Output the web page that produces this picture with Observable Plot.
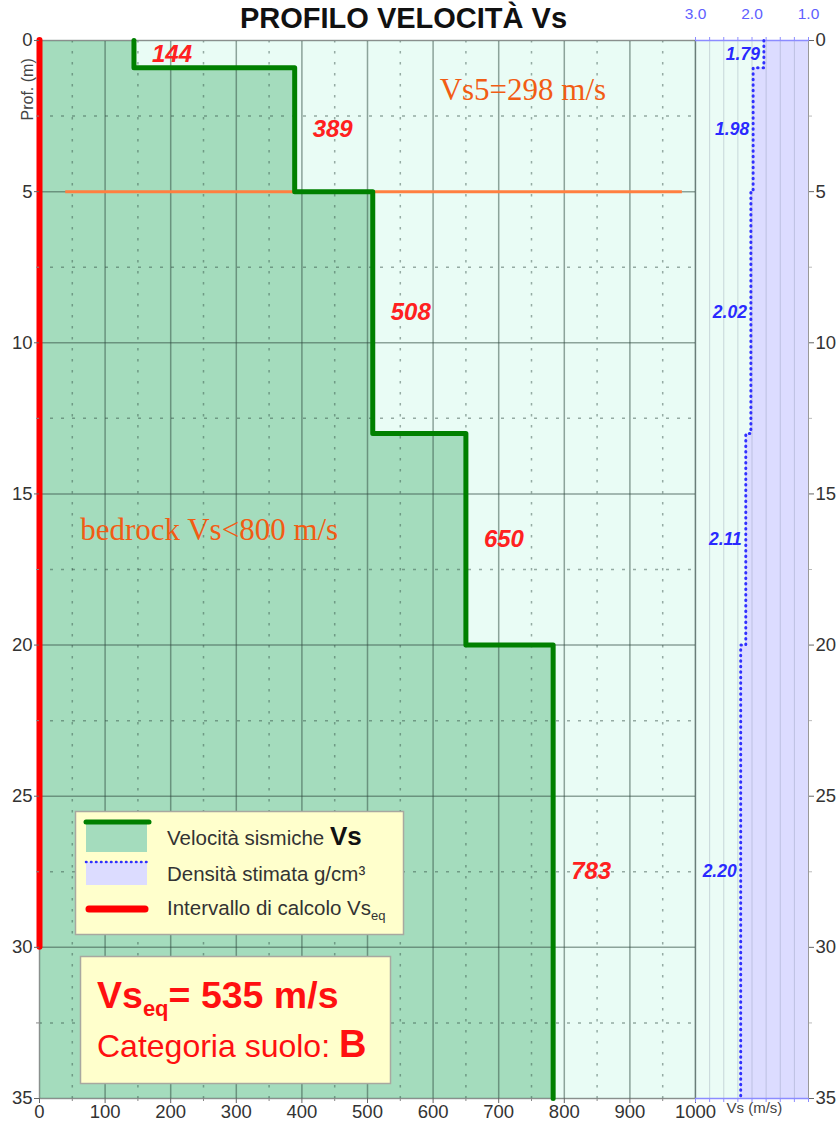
<!DOCTYPE html>
<html><head><meta charset="utf-8">
<script src="https://cdn.jsdelivr.net/npm/d3@7"></script>
<script src="https://cdn.jsdelivr.net/npm/@observablehq/plot@0.6"></script>
<style>
body{margin:0;background:#fff;}
#wrap{position:relative;width:838px;height:1126px;overflow:hidden;font-family:"Liberation Sans",Arial,sans-serif;}
#wrap svg{position:absolute;left:0;top:0;}
#title{position:absolute;left:0;top:2px;width:807px;text-align:center;font-size:29px;line-height:32px;font-weight:bold;color:#111;}
</style></head>
<body><div id="wrap"></div>
<script>
// ---- data ----
const layerTop = [0, 0.9, 5, 13, 20];
const layerBottom = [0.9, 5, 13, 20, 35];
const vsValues = [144, 389, 508, 650, 783];
const densityValues = [1.79, 1.98, 2.02, 2.11, 2.20];
const vsTicks = [0, 100, 200, 300, 400, 500, 600, 700, 800, 900, 1000];
const vsMinorTicks = [50, 150, 250, 350, 450, 550, 650, 750, 850, 950];
const depthTicks = [0, 5, 10, 15, 20, 25, 30, 35];
const depthMinorTicks = [2.5, 7.5, 12.5, 17.5, 22.5, 27.5, 32.5];
const densityTicks = [3.0, 2.0, 1.0];
const densityMinorTicks = [3.0, 2.75, 2.5, 2.25, 2.0, 1.75, 1.5, 1.25, 1.0];
const titleText = "PROFILO VELOCITÀ Vs";
const vs5Value = 298;
const vs5Depth = 5;
const vsEqValue = 535;
const calcDepth = 30;
const soilCategory = "B";
const bedrockLimit = 800;

const layers = layerTop.map((t, i) => ({
  top: t, bottom: layerBottom[i], mid: (t + layerBottom[i]) / 2,
  vs: vsValues[i], density: densityValues[i]
}));
const profile = layers.flatMap(d => [
  {vs: d.vs, dens: d.density, depth: d.top},
  {vs: d.vs, dens: d.density, depth: d.bottom}
]);

const W = 838, H = 1126, MT = 40, MB = 28;
const FONT = "Liberation Sans, Arial, sans-serif";
const gridDark = "#2f4a40";

const main = Plot.plot({
  width: W, height: H, marginLeft: 39, marginRight: 143, marginTop: MT, marginBottom: MB,
  x: {domain: [0, 1000]},
  y: {domain: [0, 35], reverse: true},
  style: {background: "transparent", fontFamily: FONT, color: "#333"},
  marks: [
    Plot.frame({fill: "#e9fcf5", stroke: "none"}),
    Plot.areaX(profile, {x1: 0, x2: "vs", y: "depth", fill: "#a4dcbd"}),
    Plot.ruleX(vsMinorTicks, {stroke: gridDark, strokeOpacity: 0.45, strokeWidth: 1.5, strokeDasharray: "2.5,8.5"}),
    Plot.ruleY(depthMinorTicks, {stroke: gridDark, strokeOpacity: 0.45, strokeWidth: 1.5, strokeDasharray: "3,8"}),
    Plot.ruleX(vsTicks, {stroke: gridDark, strokeOpacity: 0.5, strokeWidth: 1.5}),
    Plot.ruleY(depthTicks, {stroke: gridDark, strokeOpacity: 0.5, strokeWidth: 1.5}),
    Plot.frame({stroke: "#8a8f8d", fill: "none"}),
    Plot.ruleY([vs5Depth], {x1: 40, x2: 980, stroke: "#ff7f40", strokeWidth: 3}),
    Plot.line(profile, {x: "vs", y: "depth", stroke: "#008000", strokeWidth: 5}),
    Plot.ruleX([0], {y1: 0, y2: calcDepth, stroke: "#ff0000", strokeWidth: 6, strokeLinecap: "round"}),
    Plot.text(layers, {x: "vs", y: "mid", text: d => String(d.vs), dx: 38, fill: "#ff2020",
      fontSize: 24, fontWeight: "bold", fontStyle: "italic"}),
    Plot.text([`Vs5=${vs5Value} m/s`], {x: 610, y: 1.65, textAnchor: "start", fill: "#f25c14",
      fontSize: 31, fontFamily: "Liberation Serif, Times New Roman, serif"}),
    Plot.text([`bedrock Vs<${bedrockLimit} m/s`], {x: 62, y: 16.2, textAnchor: "start", fill: "#f25c14",
      fontSize: 31, fontFamily: "Liberation Serif, Times New Roman, serif"}),
    Plot.axisY({ticks: depthTicks, anchor: "left", tickSize: 5, tickPadding: 2, fontSize: 18.5, label: null, stroke: "#666"}),
    Plot.axisY({ticks: depthMinorTicks, anchor: "left", tickSize: 3, text: null, label: null, stroke: "#888"}),
    Plot.axisX({ticks: vsTicks, anchor: "bottom", tickSize: 5, tickPadding: 1, fontSize: 18.5, label: null,
      stroke: "#666", tickFormat: d => String(d)}),
    Plot.axisX({ticks: vsMinorTicks, anchor: "bottom", tickSize: 3, text: null, label: null, stroke: "#888"}),
    Plot.text(["Prof. (m)"], {frameAnchor: "top-left", dx: -18, dy: 80, rotate: -90, fontSize: 16, fill: "#444"})
  ]
});

const dens = Plot.plot({
  width: W, height: H, marginLeft: 695, marginRight: 30, marginTop: MT, marginBottom: MB,
  x: {domain: [3, 1]},
  y: {domain: [0, 35], reverse: true},
  style: {background: "transparent", fontFamily: FONT, color: "#333"},
  marks: [
    Plot.frame({fill: "#ebfcf6", stroke: "none"}),
    Plot.areaX(profile, {x1: "dens", x2: 1, y: "depth", fill: "#dcdcff"}),
    Plot.ruleX(densityMinorTicks, {stroke: "#6a7a90", strokeOpacity: 0.28}),
    Plot.ruleX([3], {stroke: gridDark, strokeOpacity: 0.5, strokeWidth: 1.5}),
    Plot.ruleX([1], {stroke: "#999"}),
    Plot.ruleY([0, 35], {stroke: "#8c8cff", strokeWidth: 1.5}),
    Plot.line(profile, {x: "dens", y: "depth", stroke: "#3030ff", strokeWidth: 3,
      strokeDasharray: "0.5,5", strokeLinecap: "round"}),
    Plot.text(layers, {x: "density", y: "mid", text: d => d.density.toFixed(2), textAnchor: "end", dx: -4,
      fill: "#2a2aff", fontSize: 17.5, fontWeight: "bold", fontStyle: "italic"}),
    Plot.axisX({ticks: densityMinorTicks, anchor: "top", tickSize: 4, text: null, label: null, stroke: "#8c8cff"}),
    Plot.axisX({ticks: densityTicks, anchor: "top", tickSize: 0, tickPadding: 22, fontSize: 15.5,
      tickFormat: d => d.toFixed(1), label: null, fill: "#6060ff"}),
    Plot.axisX({ticks: densityMinorTicks, anchor: "bottom", tickSize: 4, text: null, label: null, stroke: "#8c8cff"}),
    Plot.axisY({ticks: depthTicks, anchor: "right", tickSize: 5, tickPadding: 2, fontSize: 18.5, label: null, stroke: "#666"}),
    Plot.axisY({ticks: depthMinorTicks, anchor: "right", tickSize: 3, text: null, label: null, stroke: "#bbb"}),
    Plot.text(["Vs (m/s)"], {frameAnchor: "bottom-left", dx: 31, dy: 14, textAnchor: "start", fontSize: 15, fill: "#444"})
  ]
});

const wrap = document.getElementById("wrap");
wrap.appendChild(main);
wrap.appendChild(dens);

const title = document.createElement("div");
title.id = "title";
title.textContent = titleText;
wrap.appendChild(title);

// legend + result boxes
const ns = "http://www.w3.org/2000/svg";
const leg = document.createElementNS(ns, "svg");
leg.setAttribute("width", W);
leg.setAttribute("height", H);
leg.setAttribute("font-family", FONT);
leg.innerHTML = `
 <rect x="75.5" y="811.5" width="328" height="123" fill="#ffffcc" stroke="#a8a8a0" stroke-width="1.5"/>
 <rect x="86" y="822" width="61" height="30" fill="#a4dcbd"/>
 <line x1="86" y1="822" x2="149" y2="822" stroke="#008000" stroke-width="5" stroke-linecap="round"/>
 <text x="167" y="845" font-size="20.5" fill="#333">Velocità sismiche <tspan font-weight="bold" font-size="26" fill="#111">Vs</tspan></text>
 <rect x="86" y="862" width="61" height="23" fill="#dcdcff"/>
 <line x1="86" y1="862" x2="147" y2="862" stroke="#3030ff" stroke-width="2.5" stroke-dasharray="0.5,4.5" stroke-linecap="round"/>
 <text x="167" y="881" font-size="20.5" fill="#333">Densità stimata g/cm³</text>
 <line x1="89" y1="909" x2="145" y2="909" stroke="#ff0000" stroke-width="7" stroke-linecap="round"/>
 <text x="167" y="915" font-size="20.5" fill="#333">Intervallo di calcolo Vs<tspan font-size="13" dy="5">eq</tspan></text>
 <rect x="80.5" y="956.5" width="310" height="127" fill="#ffffcc" stroke="#a8a8a0" stroke-width="1.5"/>
 <text x="97" y="1008" font-size="37.5" font-weight="bold" fill="#ff1010">Vs<tspan font-size="22" dy="8">eq</tspan><tspan dy="-8">= ${vsEqValue} m/s</tspan></text>
 <text x="97" y="1057" font-size="32" fill="#ff1010">Categoria suolo: <tspan font-weight="bold" font-size="38">${soilCategory}</tspan></text>
`;
wrap.appendChild(leg);
</script>
</body></html>
